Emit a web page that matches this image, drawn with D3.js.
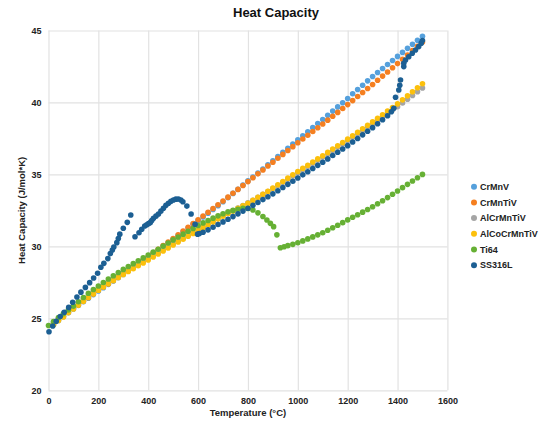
<!DOCTYPE html>
<html>
<head>
<meta charset="utf-8">
<script src="https://cdn.jsdelivr.net/npm/d3@7"></script>
<style>
  body { margin: 0; background: #fff; }
  svg { display: block; font-family: "Liberation Sans", Arial, sans-serif; }
</style>
</head>
<body>
<svg id="chart" width="539" height="421"></svg>
<script>
// temperatures (°C) shared by the four HEA series
const heaTemps = [20,40,60,80,100,120,140,160,180,200,220,240,260,280,300,320,340,360,380,400,
  420,440,460,480,500,520,540,560,580,600,620,640,660,680,700,720,740,760,780,800,
  820,840,860,880,900,920,940,960,980,1000,1020,1040,1060,1080,1100,1120,1140,1160,1180,1200,
  1220,1240,1260,1280,1300,1320,1340,1360,1380,1400,1420,1440,1460,1480,1500];

const crMnV = [24.55,24.85,25.12,25.39,25.65,25.9,26.15,26.4,26.65,26.9,
  27.13,27.36,27.59,27.82,28.05,28.29,28.53,28.77,29.01,29.25,
  29.5,29.75,30.0,30.25,30.5,30.76,31.02,31.28,31.54,31.8,
  32.05,32.31,32.57,32.83,33.1,33.39,33.68,33.97,34.26,34.55,
  34.82,35.1,35.38,35.66,35.95,36.24,36.53,36.82,37.11,37.4,
  37.68,37.97,38.25,38.54,38.82,39.11,39.4,39.69,39.98,40.27,
  40.6,40.9,41.2,41.5,41.8,42.08,42.36,42.64,42.92,43.2,
  43.48,43.76,44.04,44.32,44.6];

const crMnTiV = [24.6,24.9,25.17,25.44,25.7,25.95,26.2,26.45,26.7,26.95,
  27.18,27.41,27.64,27.87,28.1,28.34,28.58,28.82,29.06,29.3,
  29.55,29.8,30.05,30.3,30.55,30.81,31.07,31.33,31.59,31.85,
  32.11,32.37,32.63,32.89,33.15,33.42,33.69,33.96,34.23,34.5,
  34.77,35.04,35.31,35.58,35.85,36.12,36.39,36.66,36.93,37.2,
  37.46,37.72,37.98,38.24,38.5,38.77,39.04,39.31,39.58,39.85,
  40.13,40.41,40.69,40.97,41.25,41.54,41.83,42.12,42.41,42.7,
  43.0,43.3,43.6,43.9,44.2];

const alCrMnTiV = [24.7,25.0,25.27,25.55,25.82,26.08,26.34,26.6,26.85,27.1,
  27.32,27.54,27.76,27.98,28.19,28.39,28.59,28.79,28.99,29.18,
  29.38,29.58,29.78,29.98,30.18,30.38,30.57,30.77,30.96,31.16,
  31.35,31.55,31.74,31.93,32.12,32.3,32.48,32.66,32.84,33.02,
  33.21,33.41,33.61,33.81,34.02,34.23,34.45,34.67,34.89,35.11,
  35.33,35.55,35.77,35.99,36.21,36.43,36.66,36.89,37.12,37.35,
  37.59,37.82,38.06,38.3,38.54,38.77,39.0,39.23,39.47,39.7,
  39.96,40.22,40.48,40.74,41.0];

const alCoCrMnTiV = [24.55,24.85,25.1,25.4,25.65,25.92,26.18,26.45,26.7,26.95,
  27.17,27.4,27.62,27.84,28.05,28.25,28.45,28.65,28.85,29.05,
  29.26,29.47,29.68,29.89,30.1,30.3,30.5,30.7,30.9,31.1,
  31.3,31.5,31.7,31.9,32.1,32.28,32.46,32.64,32.82,33.0,
  33.2,33.41,33.62,33.83,34.05,34.28,34.51,34.74,34.97,35.2,
  35.42,35.64,35.86,36.08,36.3,36.53,36.76,36.99,37.22,37.45,
  37.69,37.93,38.17,38.41,38.65,38.9,39.15,39.4,39.65,39.9,
  40.18,40.46,40.74,41.02,41.3];

const ti64Temps = [0,20,40,60,80,100,120,140,160,180,200,220,240,260,280,300,320,340,360,380,400,
  420,440,460,480,500,520,540,560,580,600,620,640,660,680,700,720,740,760,780,800,820,840,860,
  876,890,903,916,930,945,960,
  980,1000,1020,1040,1060,1080,1100,1120,1140,1160,1180,1200,1220,1240,1260,1280,1300,
  1320,1340,1360,1380,1400,1420,1440,1460,1480,1500];
const ti64 = [24.5,24.78,25.06,25.33,25.59,25.85,26.15,26.45,26.74,27.0,27.25,27.49,27.73,27.96,28.18,28.4,28.6,28.8,29.0,29.2,29.4,
  29.6,29.8,30.02,30.24,30.45,30.65,30.85,31.05,31.25,31.45,31.63,31.8,31.96,32.12,32.27,32.4,32.5,32.58,32.64,32.63,32.53,32.33,32.08,
  31.83,31.6,31.37,30.8,29.9,29.97,30.05,
  30.14,30.25,30.38,30.52,30.66,30.8,30.95,31.12,31.29,31.47,31.65,31.84,32.02,32.2,32.38,32.56,32.75,
  32.96,33.17,33.39,33.62,33.85,34.08,34.31,34.54,34.77,35.0];

const ss316LTemps = [2,17,31,47,63,81,97,114,130,148,165,181,197,210,222,238,248,256,262,274,280,286,300,316,330,
  347,363,374,386,394,401,408,414,421,431,441,451,461,471,481,491,501,511,521,531,539,555,572,588,
  598,605,620,640,660,680,700,720,740,760,780,800,820,840,860,880,900,920,940,960,980,1000,
  1020,1040,1060,1080,1100,1120,1140,1160,1180,1200,1220,1240,1260,1280,1300,1320,1340,1360,1375,1385,
  1392,1405,1409,1412,1425,1425,1432,1445,1459,1472,1485,1495,1500];
const ss316L = [24.07,24.47,24.8,25.13,25.42,25.76,26.12,26.48,26.82,27.15,27.48,27.8,28.13,28.55,28.82,29.15,29.5,29.75,29.95,30.26,30.55,30.85,31.26,31.67,32.18,
  30.67,30.95,31.19,31.42,31.5,31.58,31.65,31.8,31.95,32.1,32.25,32.45,32.65,32.85,33.0,33.13,33.22,33.28,33.29,33.22,33.1,32.8,32.25,31.54,
  30.85,30.9,30.98,31.15,31.33,31.52,31.7,31.88,32.07,32.26,32.45,32.65,32.85,33.05,33.25,33.45,33.65,33.87,34.09,34.31,34.53,34.75,
  34.97,35.19,35.41,35.63,35.85,36.08,36.31,36.54,36.77,37.0,37.25,37.5,37.75,38.0,38.25,38.52,38.8,39.08,39.35,39.6,
  40.36,40.87,41.2,41.56,42.49,42.72,42.95,43.18,43.42,43.65,43.88,44.12,44.3];

const seriesNames = ['CrMnV', 'CrMnTiV', 'AlCrMnTiV', 'AlCoCrMnTiV', 'Ti64', 'SS316L'];
const seriesColors = ['#55a0dc', '#f57f20', '#a5a5a5', '#fcc00c', '#66b034', '#1c5f93'];
const xTicks = [0, 200, 400, 600, 800, 1000, 1200, 1400, 1600];
const yTicks = [20, 25, 30, 35, 40, 45];

const width = 539;
const height = 421;
const plot = { left: 48.5, right: 447.4, top: 30.5, bottom: 390.3 };

const toPoints = (ts, vs) => ts.map((t, i) => ({ t, v: vs[i] }));
const series = [
  toPoints(heaTemps, crMnV),
  toPoints(heaTemps, crMnTiV),
  toPoints(heaTemps, alCrMnTiV),
  toPoints(heaTemps, alCoCrMnTiV),
  toPoints(ti64Temps, ti64),
  toPoints(ss316LTemps, ss316L)
].map((pts, i) => ({ name: seriesNames[i], color: seriesColors[i], pts }));

const x = d3.scaleLinear().domain([0, 1600]).range([plot.left, plot.right]);
const y = d3.scaleLinear().domain([20, 45]).range([plot.bottom, plot.top]);

const svg = d3.select('#chart');
svg.append('rect').attr('width', width).attr('height', height).attr('fill', '#fff');

// gridlines + tick labels
const xAxis = svg.append('g').attr('transform', `translate(0,${plot.bottom})`)
  .call(d3.axisBottom(x).tickValues(xTicks).tickFormat(d3.format('d'))
    .tickSize(-(plot.bottom - plot.top)).tickPadding(7));
const yAxis = svg.append('g').attr('transform', `translate(${plot.left},0)`)
  .call(d3.axisLeft(y).tickValues(yTicks).tickFormat(d3.format('d'))
    .tickSize(-(plot.right - plot.left)).tickPadding(7));

[xAxis, yAxis].forEach(g => {
  g.select('.domain').remove();
  g.selectAll('line').attr('stroke', '#e2e2e2').attr('stroke-width', 1.2);
  g.selectAll('text').attr('fill', '#222').style('font-size', '9px').style('font-weight', 'bold').attr('font-family', null);
});

// points
svg.append('g').selectAll('g').data(series).enter().append('g')
  .attr('fill', d => d.color)
  .selectAll('circle').data(d => d.pts).enter().append('circle')
  .attr('cx', d => x(d.t))
  .attr('cy', d => y(d.v))
  .attr('r', 2.8);

// titles
svg.append('text').attr('x', 276).attr('y', 17).attr('text-anchor', 'middle')
  .style('font-size', '13px').style('font-weight', 'bold').attr('fill', '#111').text('Heat Capacity');
svg.append('text').attr('x', (plot.left + plot.right) / 2).attr('y', 416).attr('text-anchor', 'middle')
  .style('font-size', '9.5px').style('font-weight', 'bold').attr('fill', '#222').text('Temperature (°C)');
svg.append('text').attr('transform', `translate(25,${(plot.top + plot.bottom) / 2}) rotate(-90)`)
  .attr('text-anchor', 'middle')
  .style('font-size', '9.5px').style('font-weight', 'bold').attr('fill', '#222').text('Heat Capacity (J/mol*K)');

// legend
const legend = svg.append('g').selectAll('g').data(series).enter().append('g')
  .attr('transform', (d, i) => `translate(474,${186.7 + i * 15.7})`);
legend.append('circle').attr('r', 3).attr('fill', d => d.color);
legend.append('text').attr('x', 6).attr('dy', '0.35em')
  .style('font-size', '9px').style('font-weight', 'bold').attr('fill', '#222').text(d => d.name);
</script>
</body>
</html>
